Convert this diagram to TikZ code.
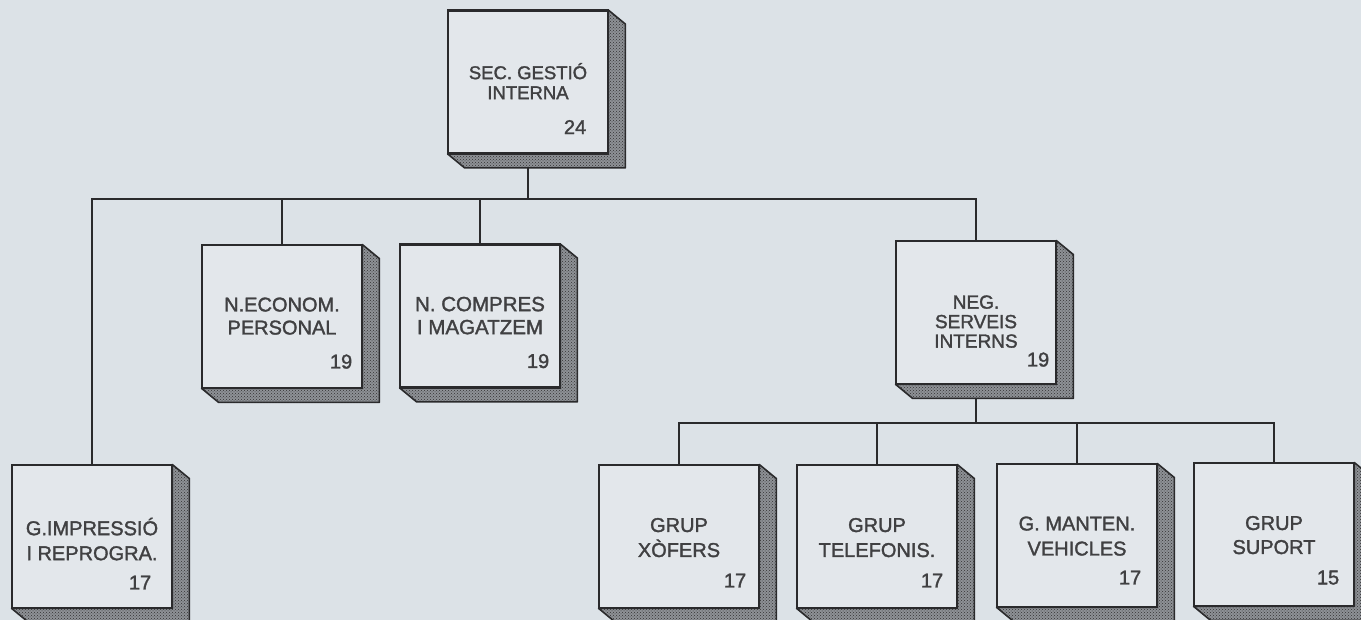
\documentclass[tikz,border=0pt]{standalone}
\usepackage{fontspec}
\setmainfont[FakeBold=1.6]{Liberation Sans}
\usetikzlibrary{patterns}
\definecolor{bgcol}{HTML}{DCE2E7}
\definecolor{facecol}{HTML}{E3E7EB}
\definecolor{inkcol}{HTML}{2A2A2C}
\definecolor{txtcol}{HTML}{404042}
\definecolor{shadecol}{HTML}{8E9196}
\tikzset{
  face/.style={draw=inkcol, fill=facecol, line width=1.8pt, minimum width=159pt, minimum height=142pt, inner sep=0pt},
  shadowbox/.style={draw=inkcol, line width=1.6pt, line join=round, fill=shadecol, postaction={pattern=crosshatch dots, pattern color=black!80}},
  conn/.style={draw=inkcol, line width=1.8pt},
  lbl/.style={text=txtcol, align=center, inner sep=0pt},
  numlbl/.style={text=txtcol, inner sep=0pt, anchor=east, font=\fontsize{20}{24}\selectfont},
}
% #1 name, #2 cx, #3 cy, #4 text, #5 number, #6 number right inset, #7 text mid offset, #8 font, #9 number offset
\newcommand\orgbox[9]{%
  \node[face] (#1) at (#2,#3) {};
  \path[shadowbox] (#1.north east) -- ++(17,14) -- ([shift={(17,14)}]#1.south east)
     -- ([shift={(17,14)}]#1.south west) -- (#1.south west) -- (#1.south east) -- cycle;
  \draw[draw=inkcol, line width=1.8pt] (#1.north west) rectangle (#1.south east);
  \node[lbl, font=#8] (#1-t) at ([shift={(0,#7)}]#1.north) {#4};
  \node[numlbl] (#1-n) at ([shift={(-#6,#9)}]#1.north east) {#5};
}
\begin{document}
\begin{tikzpicture}[x=1pt, y=-1pt]
\useasboundingbox (0,0) rectangle (1361,620);
\clip (0,0) rectangle (1361,620);
\fill[bgcol] (0,0) rectangle (1361,620);

\orgbox{sec}{528}{82}{SEC. GESTIÓ\\INTERNA}{24}{22}{71}{\fontsize{18.5}{20}\selectfont}{117}
\orgbox{econ}{282}{316.5}{N.ECONOM.\\PERSONAL}{19}{10}{71.5}{\fontsize{20}{23}\selectfont}{117}
\orgbox{compres}{480}{316}{N. COMPRES\\I MAGATZEM}{19}{11}{71.5}{\fontsize{20.5}{23}\selectfont}{117}
\orgbox{neg}{976}{312.5}{NEG.\\SERVEIS\\INTERNS}{19}{7}{81}{\fontsize{19}{19.5}\selectfont}{119}
\orgbox{impr}{92}{536.5}{G.IMPRESSIÓ\\I REPROGRA.}{17}{21}{74.5}{\fontsize{20}{25}\selectfont}{118}
\orgbox{xofers}{679}{536.5}{GRUP\\XÒFERS}{17}{13}{73}{\fontsize{20}{25}\selectfont}{116}
\orgbox{telef}{877}{536.5}{GRUP\\TELEFONIS.}{17}{14}{73}{\fontsize{20}{25}\selectfont}{116}
\orgbox{manten}{1077}{535.5}{G. MANTEN.\\VEHICLES}{17}{16}{72.5}{\fontsize{20}{25}\selectfont}{114}
\orgbox{suport}{1274}{534.5}{GRUP\\SUPORT}{15}{15}{72.5}{\fontsize{20}{24}\selectfont}{115}

\coordinate (bus1) at (528,199);
\coordinate (bus2) at (976,423);
\draw[conn] ([yshift=-14pt]sec.south) -- (bus1);
\draw[conn] (impr.north) |- (bus1) -| (neg.north);
\draw[conn] (econ.north) -- (econ.north |- bus1);
\draw[conn] (compres.north) -- (compres.north |- bus1);
\draw[conn] ([yshift=-14pt]neg.south) -- (bus2);
\draw[conn] (xofers.north) |- (bus2) -| (suport.north);
\draw[conn] (telef.north) -- (telef.north |- bus2);
\draw[conn] (manten.north) -- (manten.north |- bus2);
\end{tikzpicture}
\end{document}
